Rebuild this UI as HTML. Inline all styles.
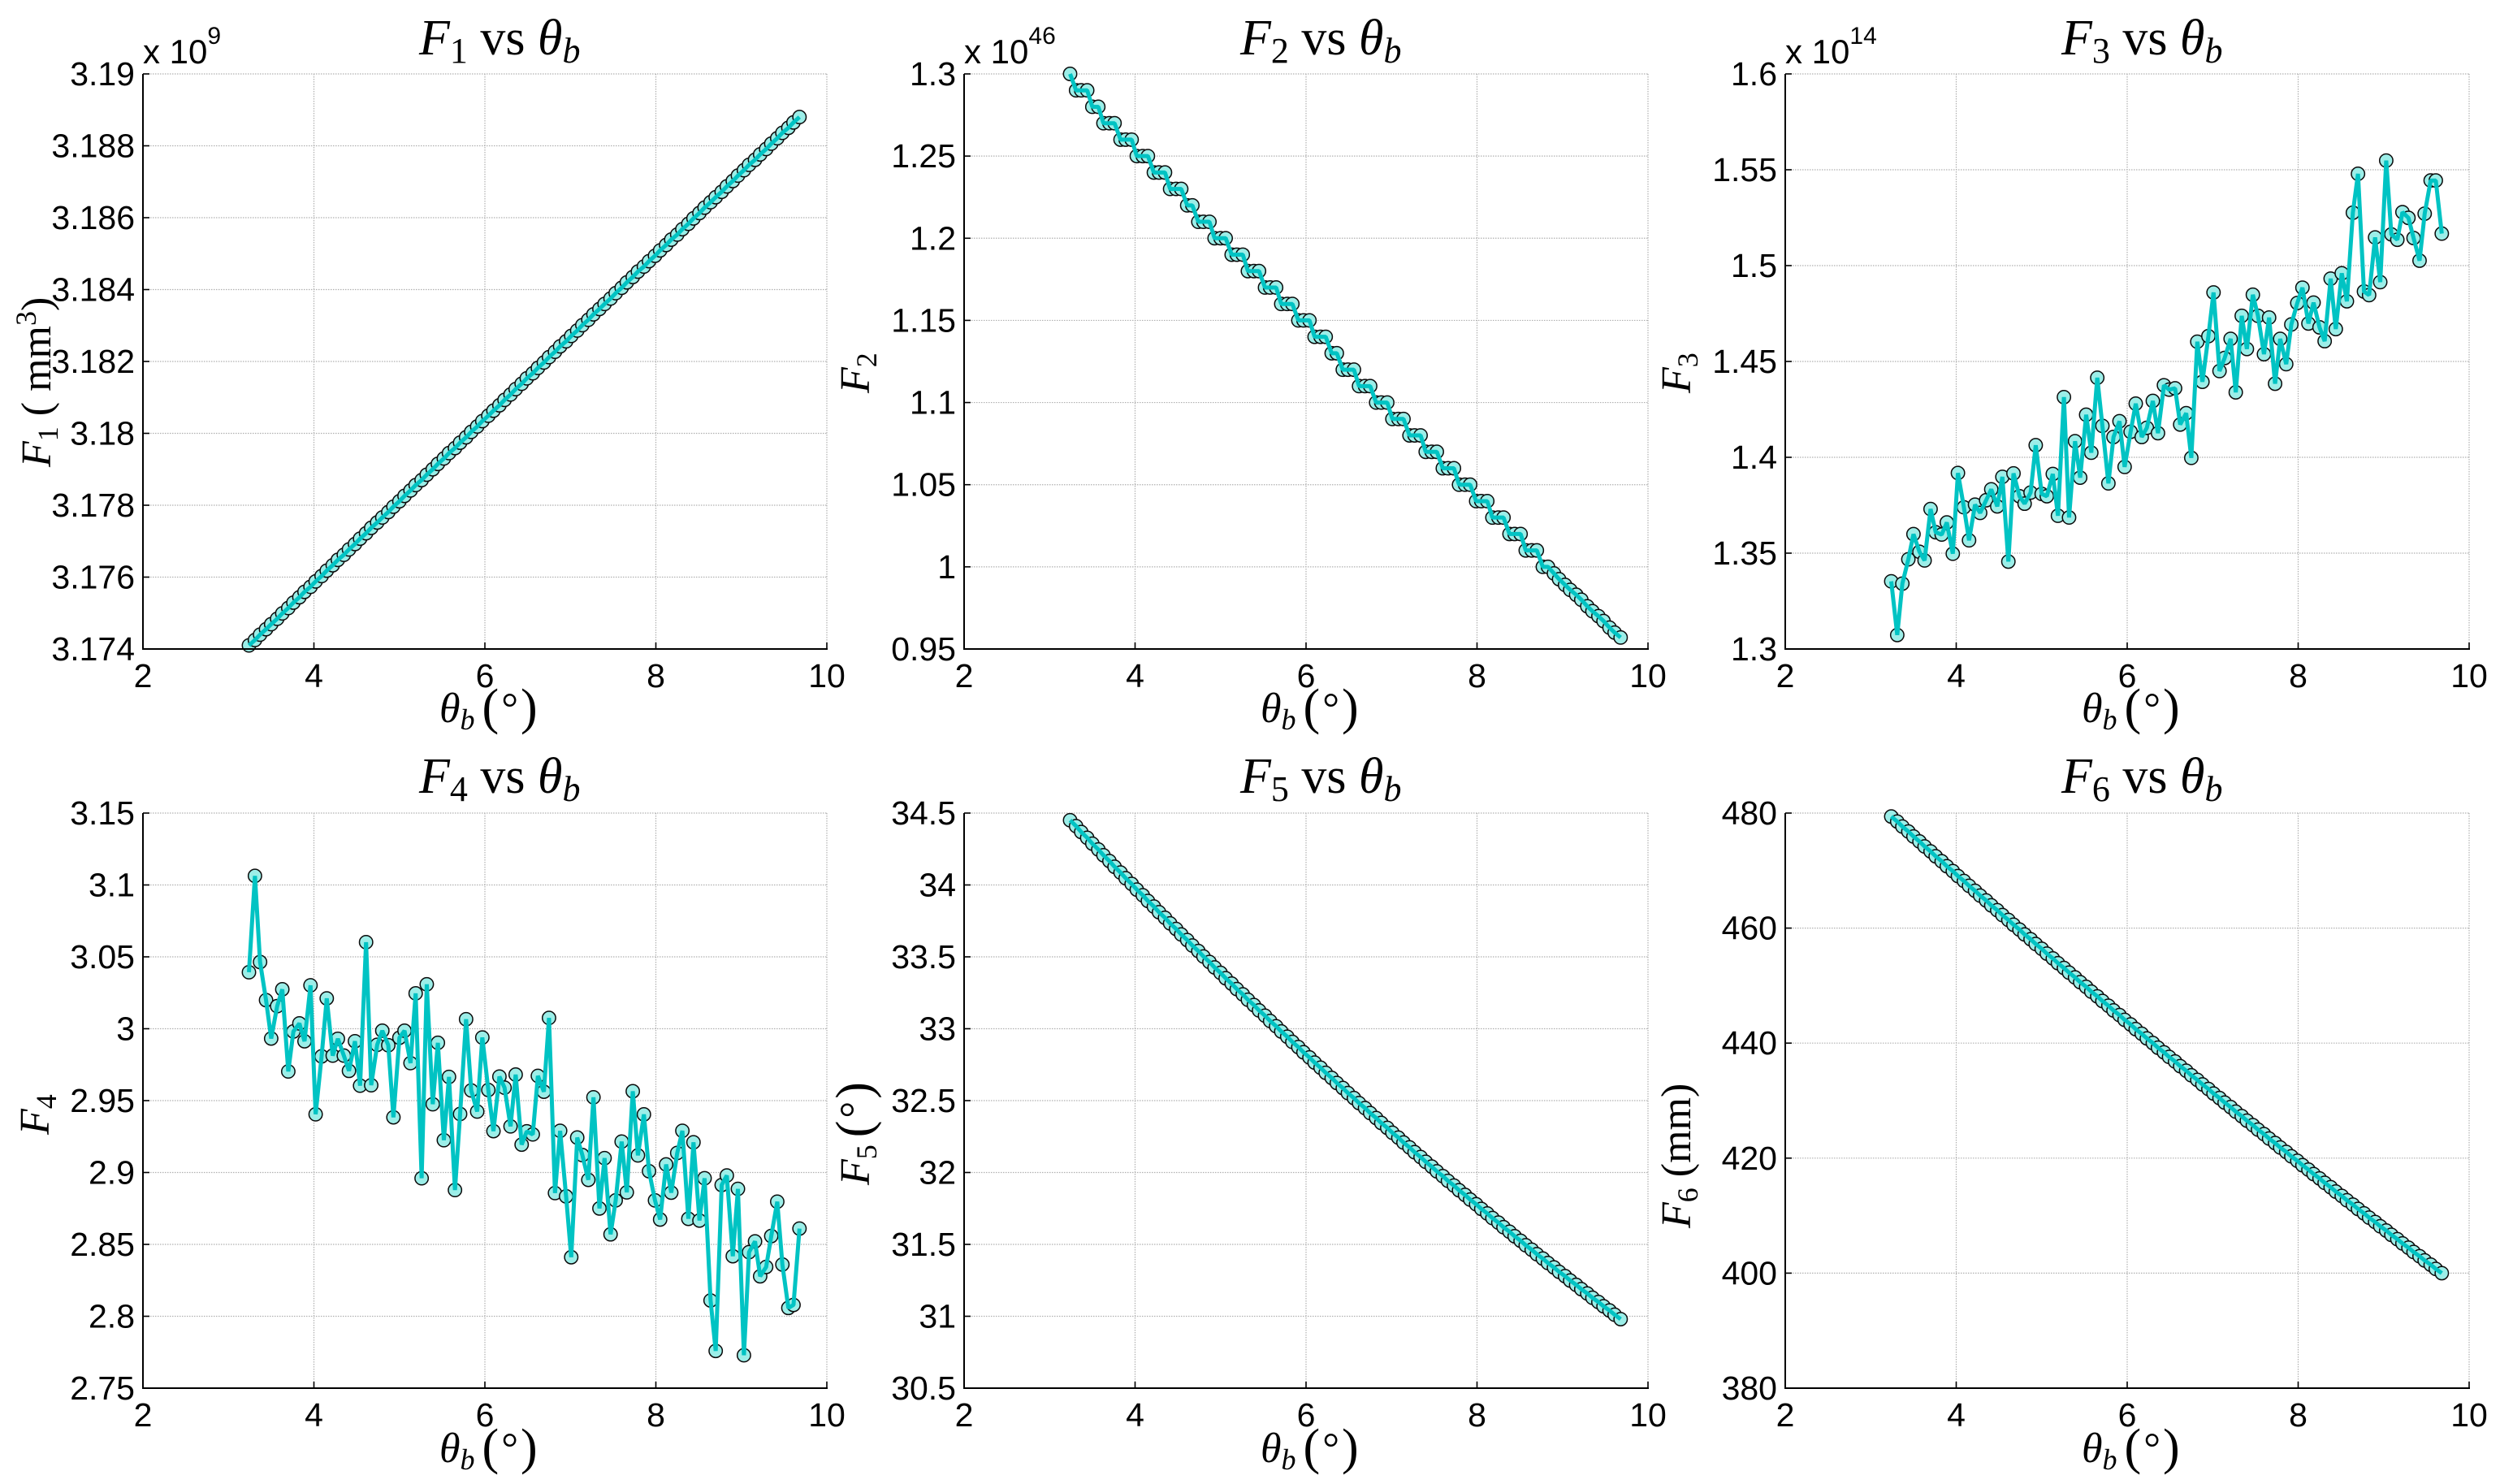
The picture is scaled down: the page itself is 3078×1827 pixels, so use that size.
<!DOCTYPE html>
<html lang="en">
<head>
<meta charset="utf-8">
<title>F1 to F6 vs theta_b</title>
<style>
html,body{margin:0;padding:0;background:#fff;}
svg{display:block;}
.tick{font-family:"Liberation Sans",sans-serif;font-size:41px;fill:#000;}
.exp{font-family:"Liberation Sans",sans-serif;font-size:42px;fill:#000;}
.tex{font-family:"Liberation Serif",serif;fill:#000;}
.title{font-size:62px;}
.lab{font-size:52px;}
.i{font-style:italic;}
</style>
</head>
<body>
<svg id="figure" xmlns="http://www.w3.org/2000/svg" width="3078" height="1827" viewBox="0 0 3078 1827">
<rect x="0" y="0" width="3078" height="1827" fill="#fff"/>
<g id="plots"></g>

<text class="tex title" x="516" y="67"><tspan class="i">F</tspan><tspan dy="10" font-size="44">1</tspan><tspan dy="-10"> vs </tspan><tspan class="i">θ</tspan><tspan dy="10" font-size="44" class="i">b</tspan></text>
<text class="tex title" x="1527" y="67"><tspan class="i">F</tspan><tspan dy="10" font-size="44">2</tspan><tspan dy="-10"> vs </tspan><tspan class="i">θ</tspan><tspan dy="10" font-size="44" class="i">b</tspan></text>
<text class="tex title" x="2538" y="67"><tspan class="i">F</tspan><tspan dy="10" font-size="44">3</tspan><tspan dy="-10"> vs </tspan><tspan class="i">θ</tspan><tspan dy="10" font-size="44" class="i">b</tspan></text>
<text class="tex title" x="516" y="976"><tspan class="i">F</tspan><tspan dy="10" font-size="44">4</tspan><tspan dy="-10"> vs </tspan><tspan class="i">θ</tspan><tspan dy="10" font-size="44" class="i">b</tspan></text>
<text class="tex title" x="1527" y="976"><tspan class="i">F</tspan><tspan dy="10" font-size="44">5</tspan><tspan dy="-10"> vs </tspan><tspan class="i">θ</tspan><tspan dy="10" font-size="44" class="i">b</tspan></text>
<text class="tex title" x="2538" y="976"><tspan class="i">F</tspan><tspan dy="10" font-size="44">6</tspan><tspan dy="-10"> vs </tspan><tspan class="i">θ</tspan><tspan dy="10" font-size="44" class="i">b</tspan></text>

<text class="tex lab" x="541" y="889"><tspan class="i">θ</tspan><tspan dy="9" font-size="36" class="i">b</tspan><tspan dy="-7" dx="9" font-size="62">(</tspan><tspan dy="-2" dx="3">°</tspan><tspan dy="2" dx="3" font-size="62">)</tspan></text>
<text class="tex lab" x="1552" y="889"><tspan class="i">θ</tspan><tspan dy="9" font-size="36" class="i">b</tspan><tspan dy="-7" dx="9" font-size="62">(</tspan><tspan dy="-2" dx="3">°</tspan><tspan dy="2" dx="3" font-size="62">)</tspan></text>
<text class="tex lab" x="2563" y="889"><tspan class="i">θ</tspan><tspan dy="9" font-size="36" class="i">b</tspan><tspan dy="-7" dx="9" font-size="62">(</tspan><tspan dy="-2" dx="3">°</tspan><tspan dy="2" dx="3" font-size="62">)</tspan></text>
<text class="tex lab" x="541" y="1800"><tspan class="i">θ</tspan><tspan dy="9" font-size="36" class="i">b</tspan><tspan dy="-7" dx="9" font-size="62">(</tspan><tspan dy="-2" dx="3">°</tspan><tspan dy="2" dx="3" font-size="62">)</tspan></text>
<text class="tex lab" x="1552" y="1800"><tspan class="i">θ</tspan><tspan dy="9" font-size="36" class="i">b</tspan><tspan dy="-7" dx="9" font-size="62">(</tspan><tspan dy="-2" dx="3">°</tspan><tspan dy="2" dx="3" font-size="62">)</tspan></text>
<text class="tex lab" x="2563" y="1800"><tspan class="i">θ</tspan><tspan dy="9" font-size="36" class="i">b</tspan><tspan dy="-7" dx="9" font-size="62">(</tspan><tspan dy="-2" dx="3">°</tspan><tspan dy="2" dx="3" font-size="62">)</tspan></text>

<text class="tex lab" transform="translate(62,575) rotate(-90)"><tspan class="i">F</tspan><tspan dy="9" font-size="36">1</tspan><tspan dy="-9"> ( mm</tspan><tspan dy="-18" font-size="36">3</tspan><tspan dy="18">)</tspan></text>
<text class="tex lab" transform="translate(1070,484) rotate(-90)"><tspan class="i">F</tspan><tspan dy="9" font-size="36">2</tspan></text>
<text class="tex lab" transform="translate(2081,484) rotate(-90)"><tspan class="i">F</tspan><tspan dy="9" font-size="36">3</tspan></text>
<text class="tex lab" transform="translate(60,1397) rotate(-90)"><tspan class="i">F</tspan><tspan dy="9" font-size="36">4</tspan></text>
<text class="tex lab" transform="translate(1070,1459) rotate(-90)"><tspan class="i">F</tspan><tspan dy="9" font-size="36">5</tspan><tspan dy="-7" dx="9" font-size="62">(</tspan><tspan dy="-2" dx="3">°</tspan><tspan dy="2" dx="3" font-size="62">)</tspan></text>
<text class="tex lab" transform="translate(2081,1512) rotate(-90)"><tspan class="i">F</tspan><tspan dy="9" font-size="36">6</tspan><tspan dy="-9"> (mm)</tspan></text>

<text class="exp" x="176" y="78">x 10<tspan dy="-24" font-size="30">9</tspan></text>
<text class="exp" x="1187" y="78">x 10<tspan dy="-24" font-size="30">46</tspan></text>
<text class="exp" x="2198" y="78">x 10<tspan dy="-24" font-size="30">14</tspan></text>
</svg>

<script>
const thetaB = [3.24,3.31,3.37,3.44,3.50,3.57,3.63,3.70,3.76,3.83,3.89,3.96,4.02,4.09,4.15,4.22,4.28,4.35,4.41,4.48,4.54,4.61,4.67,4.74,4.80,4.87,4.93,5.00,5.06,5.13,5.19,5.26,5.32,5.39,5.45,5.52,5.58,5.65,5.71,5.78,5.84,5.91,5.97,6.04,6.10,6.17,6.23,6.30,6.36,6.43,6.49,6.56,6.62,6.69,6.75,6.82,6.88,6.95,7.01,7.08,7.14,7.21,7.27,7.34,7.40,7.47,7.53,7.60,7.66,7.73,7.79,7.86,7.92,7.99,8.05,8.12,8.18,8.25,8.31,8.38,8.44,8.51,8.57,8.64,8.70,8.77,8.83,8.90,8.96,9.03,9.09,9.16,9.22,9.29,9.35,9.42,9.48,9.55,9.61,9.68];

const f1Values = [3.17410,3.17425,3.17440,3.17455,3.17469,3.17484,3.17499,3.17514,3.17529,3.17544,3.17559,3.17573,3.17588,3.17603,3.17618,3.17633,3.17648,3.17662,3.17677,3.17692,3.17707,3.17722,3.17737,3.17752,3.17766,3.17781,3.17796,3.17811,3.17826,3.17841,3.17856,3.17870,3.17885,3.17900,3.17915,3.17930,3.17945,3.17959,3.17974,3.17989,3.18004,3.18019,3.18034,3.18049,3.18063,3.18078,3.18093,3.18108,3.18123,3.18138,3.18153,3.18167,3.18182,3.18197,3.18212,3.18227,3.18242,3.18256,3.18271,3.18286,3.18301,3.18316,3.18331,3.18346,3.18360,3.18375,3.18390,3.18405,3.18420,3.18435,3.18450,3.18464,3.18479,3.18494,3.18509,3.18524,3.18539,3.18553,3.18568,3.18583,3.18598,3.18613,3.18628,3.18643,3.18657,3.18672,3.18687,3.18702,3.18717,3.18732,3.18747,3.18761,3.18776,3.18791,3.18806,3.18821,3.18836,3.18850,3.18865,3.18880];

const f2Values = [1.30,1.29,1.29,1.29,1.28,1.28,1.27,1.27,1.27,1.26,1.26,1.26,1.25,1.25,1.25,1.24,1.24,1.24,1.23,1.23,1.23,1.22,1.22,1.21,1.21,1.21,1.20,1.20,1.20,1.19,1.19,1.19,1.18,1.18,1.18,1.17,1.17,1.17,1.16,1.16,1.16,1.15,1.15,1.15,1.14,1.14,1.14,1.13,1.13,1.12,1.12,1.12,1.11,1.11,1.11,1.10,1.10,1.10,1.09,1.09,1.09,1.08,1.08,1.08,1.07,1.07,1.07,1.06,1.06,1.06,1.05,1.05,1.05,1.04,1.04,1.04,1.03,1.03,1.03,1.02,1.02,1.02,1.01,1.01,1.01,1.00,1.00,0.996,0.9925,0.989,0.986,0.983,0.98,0.976,0.973,0.97,0.967,0.963,0.96,0.957];

const f3Values = [1.3353,1.3073,1.3341,1.3468,1.3599,1.3507,1.3462,1.373,1.3609,1.3597,1.366,1.3497,1.3918,1.3739,1.3567,1.3753,1.371,1.3776,1.3833,1.3744,1.3898,1.3456,1.3916,1.3797,1.3758,1.3816,1.4063,1.3809,1.3797,1.3913,1.3695,1.4314,1.3686,1.4084,1.3894,1.4222,1.4024,1.4415,1.4164,1.3864,1.4106,1.4188,1.395,1.4133,1.428,1.4106,1.4154,1.4294,1.4126,1.4376,1.4353,1.436,1.4171,1.423,1.3997,1.4603,1.4394,1.4632,1.486,1.445,1.4518,1.4618,1.4339,1.4738,1.4565,1.4848,1.4738,1.4538,1.4729,1.4384,1.4618,1.4486,1.4693,1.4805,1.4885,1.4698,1.4807,1.4678,1.4606,1.4932,1.4669,1.496,1.4814,1.5276,1.5479,1.4865,1.4846,1.5147,1.4914,1.5548,1.5163,1.5135,1.5279,1.5249,1.5144,1.5026,1.5271,1.5444,1.5444,1.5167];

const f4Values = [3.0393,3.1063,3.0464,3.0199,2.9932,3.0157,3.0274,2.9703,2.9981,3.0037,2.9913,3.0302,2.9405,2.9808,3.0211,2.9813,2.993,2.9813,2.9707,2.9913,2.9604,3.0602,2.9607,2.9888,2.9986,2.9885,2.9384,2.9937,2.9986,2.9761,3.0246,2.896,3.0309,2.9475,2.9902,2.9225,2.9665,2.8878,2.9407,3.0066,2.9571,2.9424,2.9939,2.9574,2.9288,2.9667,2.959,2.9321,2.9681,2.9194,2.9286,2.9265,2.9672,2.9562,3.0075,2.8857,2.929,2.8834,2.8411,2.9243,2.9121,2.8949,2.9523,2.875,2.91,2.857,2.8806,2.9215,2.8862,2.9565,2.9119,2.9404,2.9009,2.8806,2.8673,2.9056,2.886,2.9136,2.929,2.8678,2.921,2.8666,2.896,2.811,2.7759,2.8913,2.8979,2.8418,2.8886,2.7729,2.8446,2.8521,2.8278,2.8343,2.8558,2.8797,2.836,2.8058,2.8079,2.861];

const f5Values = [34.45,34.4092,34.3684,34.3278,34.2873,34.2469,34.2067,34.1665,34.1265,34.0866,34.0468,34.0072,33.9676,33.9282,33.8889,33.8497,33.8106,33.7717,33.7328,33.6941,33.6555,33.6170,33.5787,33.5404,33.5023,33.4643,33.4264,33.3886,33.3510,33.3135,33.2760,33.2387,33.2016,33.1645,33.1275,33.0907,33.0540,33.0174,32.9809,32.9446,32.9083,32.8722,32.8362,32.8003,32.7646,32.7290,32.6934,32.6580,32.6227,32.5876,32.5525,32.5176,32.4828,32.4481,32.4135,32.3790,32.3447,32.3105,32.2764,32.2424,32.2085,32.1748,32.1412,32.1077,32.0743,32.0410,32.0079,31.9749,31.9419,31.9092,31.8765,31.8440,31.8116,31.7793,31.7471,31.7150,31.6831,31.6513,31.6196,31.5880,31.5565,31.5252,31.4940,31.4629,31.4319,31.4011,31.3703,31.3397,31.3092,31.2789,31.2486,31.2185,31.1885,31.1586,31.1288,31.0992,31.0697,31.0403,31.0110,30.98];

const f6Values = [479.40,478.53,477.66,476.79,475.93,475.06,474.20,473.34,472.48,471.62,470.76,469.91,469.05,468.20,467.35,466.49,465.65,464.80,463.95,463.11,462.26,461.42,460.58,459.74,458.90,458.07,457.23,456.40,455.56,454.73,453.90,453.07,452.25,451.42,450.60,449.78,448.95,448.13,447.32,446.50,445.68,444.87,444.05,443.24,442.43,441.62,440.82,440.01,439.20,438.40,437.60,436.80,436.00,435.20,434.40,433.61,432.82,432.02,431.23,430.44,429.66,428.87,428.08,427.30,426.52,425.73,424.96,424.18,423.40,422.62,421.85,421.08,420.31,419.54,418.77,418.00,417.23,416.47,415.71,414.94,414.18,413.43,412.67,411.91,411.16,410.40,409.65,408.90,408.15,407.40,406.66,405.91,405.17,404.42,403.68,402.94,402.21,401.47,400.73,400.00];

const xTicks = [2,4,6,8,10];
const xTickLabels = ["2","4","6","8","10"];
const f1Ticks = [3.174,3.176,3.178,3.18,3.182,3.184,3.186,3.188,3.19];
const f1TickLabels = ["3.174","3.176","3.178","3.18","3.182","3.184","3.186","3.188","3.19"];
const f2Ticks = [0.95,1,1.05,1.1,1.15,1.2,1.25,1.3];
const f2TickLabels = ["0.95","1","1.05","1.1","1.15","1.2","1.25","1.3"];
const f3Ticks = [1.3,1.35,1.4,1.45,1.5,1.55,1.6];
const f3TickLabels = ["1.3","1.35","1.4","1.45","1.5","1.55","1.6"];
const f4Ticks = [2.75,2.8,2.85,2.9,2.95,3,3.05,3.1,3.15];
const f4TickLabels = ["2.75","2.8","2.85","2.9","2.95","3","3.05","3.1","3.15"];
const f5Ticks = [30.5,31,31.5,32,32.5,33,33.5,34,34.5];
const f5TickLabels = ["30.5","31","31.5","32","32.5","33","33.5","34","34.5"];
const f6Ticks = [380,400,420,440,460,480];
const f6TickLabels = ["380","400","420","440","460","480"];

const SVGNS = "http://www.w3.org/2000/svg";
const plotWidth = 842, plotHeight = 708;
const colLeft = [176,1187,2198];
const rowTop = [91,1001];

function make(tag, attrs, parent) {
  const el = document.createElementNS(SVGNS, tag);
  for (const k in attrs) el.setAttribute(k, attrs[k]);
  parent.appendChild(el);
  return el;
}

function drawPanel(key, col, row, values, yTicks, yTickLabels) {
  const L = colLeft[col], T = rowTop[row], R = L + plotWidth, B = T + plotHeight;
  const xMin = xTicks[0], xMax = xTicks[xTicks.length - 1];
  const yMin = yTicks[0], yMax = yTicks[yTicks.length - 1];
  const xAxis = v => L + (v - xMin) / (xMax - xMin) * plotWidth;
  const yAxis = v => T + (yMax - v) / (yMax - yMin) * plotHeight;

  const root = document.getElementById("plots");
  const g = make("g", {}, root);
  
  

  xTicks.forEach((t, i) => {
    const x = xAxis(t);
    if (i > 0) {
      const gl = make("line", {x1:x, y1:T, x2:x, y2:B, stroke:"#b0b0b0", "stroke-width":1.2, "stroke-dasharray":"1.5 1.5"}, g);
      
      
    }
  });
  yTicks.forEach((t, i) => {
    const y = yAxis(t);
    if (i > 0) {
      const gl = make("line", {x1:L, y1:y, x2:R, y2:y, stroke:"#b0b0b0", "stroke-width":1.2, "stroke-dasharray":"1.5 1.5"}, g);
      
      
    }
  });

  values.forEach((v, i) => {
    const c = make("circle", {cx:xAxis(thetaB[i]), cy:yAxis(v), r:8.2, fill:"#9ceee8", stroke:"#0a0a0a", "stroke-width":1.5}, g);
    
    
  });

  const pts = values.map((v, i) => xAxis(thetaB[i]).toFixed(2) + "," + yAxis(v).toFixed(2)).join(" ");
  const line = make("polyline", {points:pts, fill:"none", stroke:"#00c3c3", "stroke-width":5, "stroke-linejoin":"bevel", "stroke-linecap":"butt"}, g);
  
  

  const spineY = make("line", {x1:L, y1:T, x2:L, y2:B + 1, stroke:"#000", "stroke-width":2}, g);
  
  
  const spineX = make("line", {x1:L - 1, y1:B, x2:R + 1, y2:B, stroke:"#000", "stroke-width":2}, g);
  
  

  xTicks.forEach((t, i) => {
    const x = xAxis(t);
    const tk = make("line", {x1:x, y1:B, x2:x, y2:B - 8, stroke:"#000", "stroke-width":1.6}, g);
    
    
    const lb = make("text", {x:x, y:B + 47, "text-anchor":"middle", class:"tick"}, g);
    
    
    lb.textContent = xTickLabels[i];
  });
  yTicks.forEach((t, i) => {
    const y = yAxis(t);
    const tk = make("line", {x1:L, y1:y, x2:L + 8, y2:y, stroke:"#000", "stroke-width":1.6}, g);
    
    
    const lb = make("text", {x:L - 10, y:y + 14, "text-anchor":"end", class:"tick"}, g);
    
    
    lb.textContent = yTickLabels[i];
  });
}

drawPanel("f1", 0, 0, f1Values, f1Ticks, f1TickLabels);
drawPanel("f2", 1, 0, f2Values, f2Ticks, f2TickLabels);
drawPanel("f3", 2, 0, f3Values, f3Ticks, f3TickLabels);
drawPanel("f4", 0, 1, f4Values, f4Ticks, f4TickLabels);
drawPanel("f5", 1, 1, f5Values, f5Ticks, f5TickLabels);
drawPanel("f6", 2, 1, f6Values, f6Ticks, f6TickLabels);
</script>
</body>
</html>
